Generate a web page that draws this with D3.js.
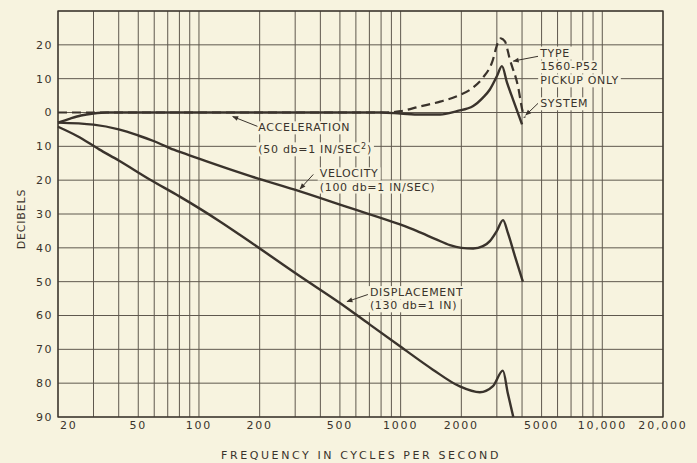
<!DOCTYPE html>
<html>
<head>
<meta charset="utf-8">
<script src="https://cdn.jsdelivr.net/npm/d3@7"></script>
<style>
    html, body { margin: 0; padding: 0; background: #f7f3df; }
    svg { display: block; }
    text { font-family: "DejaVu Sans", sans-serif; fill: #3a332c; }
</style>
</head>
<body>
<div id="chart"></div>
<script>
//====================================
//chart data (frequency in c/s, level in dB)
var freqTicks = [20, 50, 100, 200, 500, 1000, 2000, 5000, 10000, 20000];
var freqTickLabels = ["20", "50", "100", "200", "500", "1000", "2000", "5000", "10,000", "20,000"];
var dbTicks = [20, 10, 0, -10, -20, -30, -40, -50, -60, -70, -80, -90];
var dbTickLabels = ["20", "10", "0", "10", "20", "30", "40", "50", "60", "70", "80", "90"];

var pickupAccel = [[20, 0], [100, 0], [500, 0], [850, 0], [1000, 0.4], [1250, 1.8], [1570, 3.2],
    [1900, 4.8], [2290, 7.4], [2560, 10.3], [2840, 14.8], [3040, 20.7], [3140, 21.9], [3290, 21],
    [3480, 15.7], [3820, 7.7], [4040, 0], [4130, -1.5]];
var systemAccel = [[20, -3], [23, -1.8], [26, -0.9], [30, -0.3], [35, 0], [100, 0], [500, 0],
    [800, 0], [1000, -0.3], [1250, -0.6], [1570, -0.6], [1900, 0.4], [2290, 1.9], [2560, 4.4],
    [2770, 6.8], [3000, 10.7], [3180, 13.7], [3370, 8.8], [3610, 3.8], [4000, -3.5]];
var systemVelocity = [[20, -3], [30, -3.6], [40, -5], [50, -6.8], [60, -8.5], [75, -11],
    [100, -13.6], [130, -16], [180, -18.8], [317, -23.3], [561, -28.2], [993, -33.1],
    [1200, -35], [1500, -37.5], [1755, -39.2], [2000, -40], [2290, -40.2], [2560, -39.5],
    [2770, -38], [3000, -35], [3220, -31.8], [3400, -35.5], [3690, -42.5], [4040, -50]];
var systemDisplacement = [[20, -4.2], [25, -7], [32, -10.9], [40, -14.2], [57, -19.8],
    [80, -24.8], [127, -32.2], [160, -36.2], [317, -48.4], [500, -56.3], [704, -62.7],
    [993, -69.1], [1445, -76], [1955, -80.9], [2470, -82.7], [2870, -80.9], [3215, -76.3],
    [3400, -83], [3620, -90]];

//annotation text, anchored at (freq, dB)
var noteTexts = [
    {lines: ["ACCELERATION"], f: 197, db: -4.4},
    {lines: ["(50 db=1 IN/SEC", "2", ")"], f: 197, db: -10.9, sup: true},
    {lines: ["VELOCITY"], f: 397, db: -18},
    {lines: ["(100 db=1 IN/SEC)"], f: 397, db: -21.9},
    {lines: ["DISPLACEMENT"], f: 704, db: -53.1},
    {lines: ["(130 db=1 IN)"], f: 704, db: -57},
    {lines: ["TYPE"], f: 4920, db: 17.7},
    {lines: ["1560-P52"], f: 4920, db: 13.6},
    {lines: ["PICKUP ONLY"], f: 4920, db: 9.5},
    {lines: ["SYSTEM"], f: 4920, db: 2.7}
];
//leader arrows: from label to curve
var leaders = [
    {from: [195, -4.1], to: [147, -1.2]},
    {from: [369, -18.3], to: [317, -22.6]},
    {from: [688, -53.8], to: [542, -55.9]},
    {from: [4800, 16.6], to: [3620, 15.2]},
    {from: [4800, 2.7], to: [4170, -0.8]}
];

(function(){
    "use strict";
    var width = 697, height = 463;
    var margin = {left: 58, top: 11, right: 34, bottom: 46};
    var ink = "#3a332c", paper = "#f7f3df", gridInk = "#5f584e";

    var x = d3.scaleLog().domain([20, 20000]).range([margin.left, width - margin.right]);
    var y = d3.scaleLinear().domain([30, -90]).range([margin.top, height - margin.bottom]);

    var svg = d3.select("#chart").append("svg")
        .attr("width", width)
        .attr("height", height)
        .style("background", paper);

    svg.append("defs").append("marker")
        .attr("id", "arrow")
        .attr("viewBox", "0 0 10 10")
        .attr("refX", 9).attr("refY", 5)
        .attr("markerWidth", 8).attr("markerHeight", 6)
        .attr("markerUnits", "userSpaceOnUse")
        .attr("orient", "auto")
        .append("path")
        .attr("d", "M0,1 L10,5 L0,9 Z")
        .attr("fill", ink);

    //grid
    var grid = svg.append("g").attr("class", "grid");
    grid.selectAll("line.v")
        .data(x.ticks())
        .enter().append("line")
        .attr("class", "v")
        .attr("x1", function(d){ return x(d); })
        .attr("x2", function(d){ return x(d); })
        .attr("y1", y(30)).attr("y2", y(-90))
        .attr("stroke", gridInk).attr("stroke-width", 1);
    grid.selectAll("line.h")
        .data(d3.range(30, -91, -10))
        .enter().append("line")
        .attr("class", "h")
        .attr("x1", x(20)).attr("x2", x(20000))
        .attr("y1", function(d){ return y(d); })
        .attr("y2", function(d){ return y(d); })
        .attr("stroke", gridInk).attr("stroke-width", 1);
    svg.append("rect")
        .attr("x", x(20)).attr("y", y(30))
        .attr("width", x(20000) - x(20)).attr("height", y(-90) - y(30))
        .attr("fill", "none").attr("stroke", ink).attr("stroke-width", 1.3);

    //tick labels
    svg.selectAll("text.ytick")
        .data(dbTicks)
        .enter().append("text")
        .attr("class", "ytick")
        .attr("x", margin.left - 5)
        .attr("y", function(d){ return y(d); })
        .attr("dy", "0.36em")
        .attr("text-anchor", "end")
        .attr("font-size", 11)
        .attr("letter-spacing", 1.5)
        .text(function(d, i){ return dbTickLabels[i]; });
    svg.selectAll("text.xtick")
        .data(freqTicks)
        .enter().append("text")
        .attr("class", "xtick")
        .attr("x", function(d, i){ return i === 0 ? x(d) + 2 : x(d); })
        .attr("y", y(-90) + 8)
        .attr("dy", "0.36em")
        .attr("text-anchor", function(d, i){ return i === 0 ? "start" : "middle"; })
        .attr("font-size", 11)
        .attr("letter-spacing", 1.8)
        .text(function(d, i){ return freqTickLabels[i]; });

    //axis titles
    svg.append("text")
        .attr("transform", "translate(21," + ((y(30) + y(-90)) / 2 + 5) + ") rotate(-90)")
        .attr("text-anchor", "middle")
        .attr("dy", "0.36em")
        .attr("font-size", 11)
        .attr("letter-spacing", 0.8)
        .text("DECIBELS");
    svg.append("text")
        .attr("x", 361).attr("y", 455)
        .attr("dy", "0.36em")
        .attr("text-anchor", "middle")
        .attr("font-size", 11)
        .attr("letter-spacing", 2.6)
        .text("FREQUENCY IN CYCLES PER SECOND");

    //annotations (with paper behind so gridlines break)
    var notes = svg.append("g").attr("class", "notes");
    noteTexts.forEach(function(n){
        var g = notes.append("g");
        var t = g.append("text")
            .attr("x", x(n.f))
            .attr("y", y(n.db))
            .attr("dy", "0.36em")
            .attr("font-size", 11)
            .attr("letter-spacing", 0.7);
        if(n.sup){
            t.append("tspan").text(n.lines[0]);
            t.append("tspan").attr("dy", -4).attr("font-size", 8).text(n.lines[1]);
            t.append("tspan").attr("dy", 4).text(n.lines[2]);
        } else {
            t.text(n.lines[0]);
        }
        var bb = t.node().getBBox();
        g.insert("rect", "text")
            .attr("x", bb.x - 2).attr("y", bb.y)
            .attr("width", bb.width + 4).attr("height", bb.height)
            .attr("fill", paper);
    });

    //curves
    var line = d3.line()
        .x(function(d){ return x(d[0]); })
        .y(function(d){ return y(d[1]); })
        .curve(d3.curveMonotoneX);
    var curves = svg.append("g").attr("class", "curves");
    [systemAccel, systemVelocity, systemDisplacement].forEach(function(s){
        curves.append("path")
            .attr("d", line(s))
            .attr("fill", "none")
            .attr("stroke", ink)
            .attr("stroke-width", 2.4)
            .attr("stroke-linejoin", "round");
    });
    curves.append("path")
        .attr("d", line(pickupAccel))
        .attr("fill", "none")
        .attr("stroke", ink)
        .attr("stroke-width", 2.2)
        .attr("stroke-dasharray", "9,5");

    //leaders
    svg.selectAll("line.leader")
        .data(leaders)
        .enter().append("line")
        .attr("class", "leader")
        .attr("x1", function(d){ return x(d.from[0]); })
        .attr("y1", function(d){ return y(d.from[1]); })
        .attr("x2", function(d){ return x(d.to[0]); })
        .attr("y2", function(d){ return y(d.to[1]); })
        .attr("stroke", ink)
        .attr("stroke-width", 1)
        .attr("marker-end", "url(#arrow)");
})();
</script>
</body>
</html>
